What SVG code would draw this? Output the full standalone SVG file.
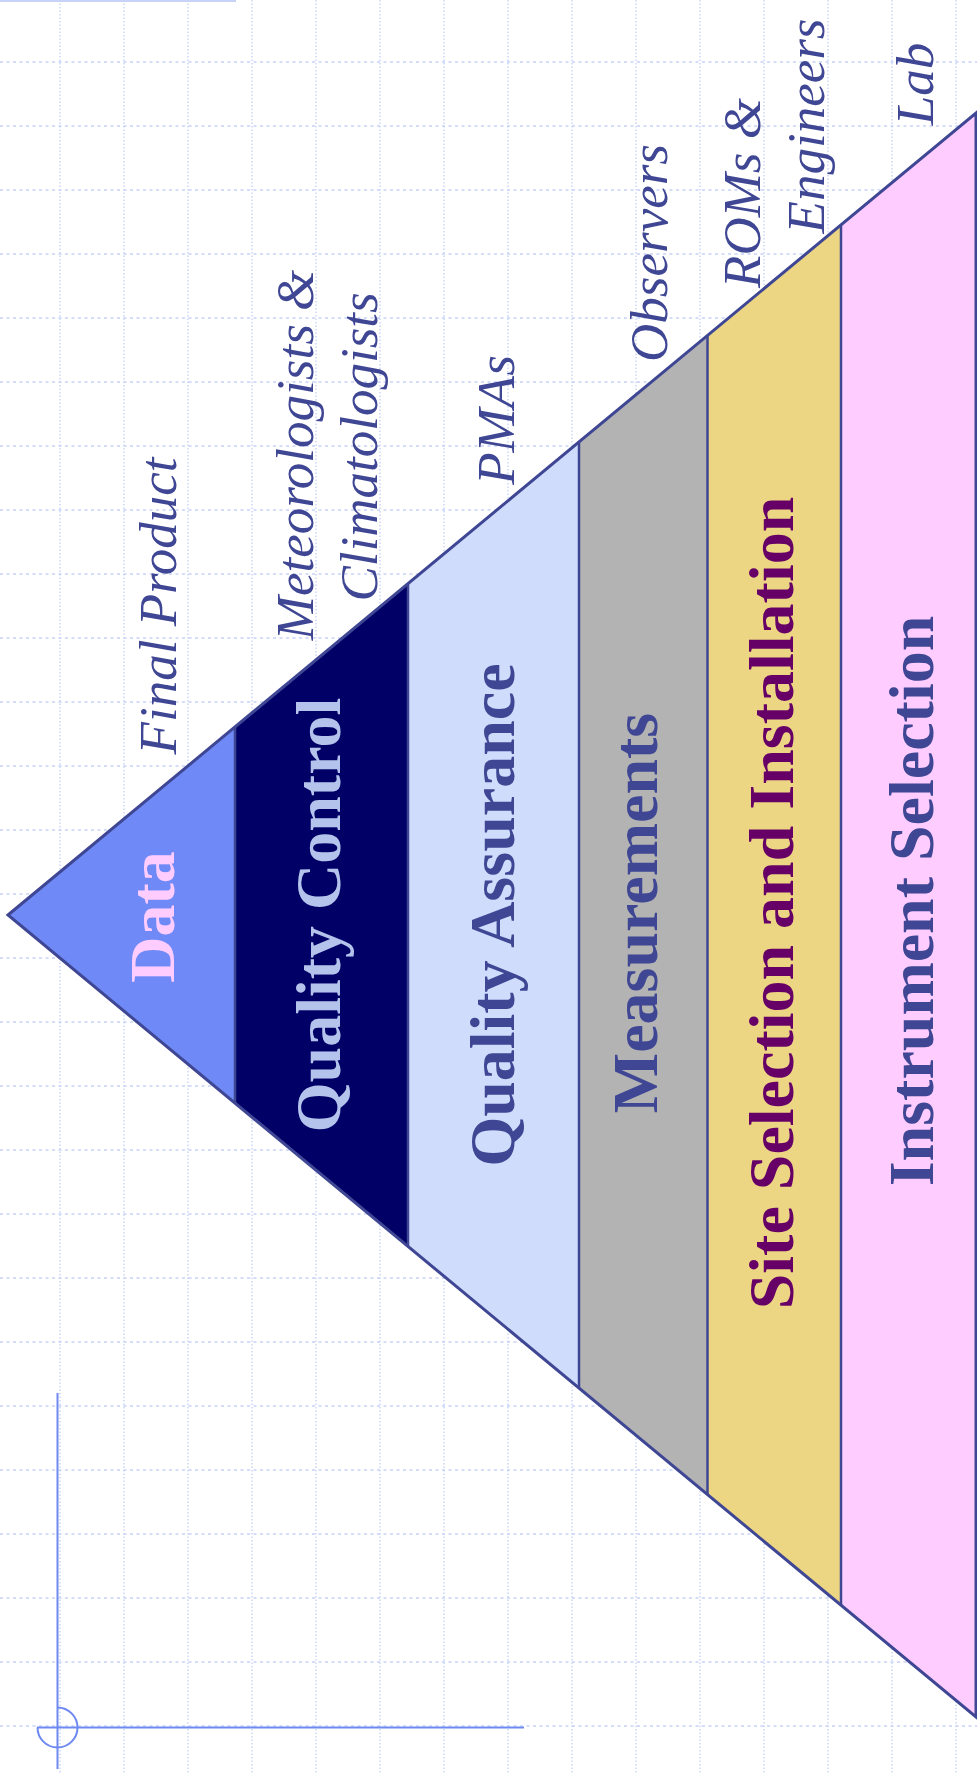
<svg xmlns="http://www.w3.org/2000/svg" width="977" height="1774" viewBox="0 0 977 1774">
  <style>
    .gh { stroke: #c6d3f6; stroke-width: 1.4; stroke-dasharray: 3 3.5; fill: none; }
    .gv { stroke: #c6d3f6; stroke-width: 1.4; stroke-dasharray: 1.5 2; fill: none; }
    .band { stroke: none; }
    .divider { stroke: #3f4794; stroke-width: 2.5; fill: none; }
    .outline { stroke: #3f4794; stroke-width: 3; fill: none; stroke-linejoin: miter; }
    .title { font-family: "Liberation Serif", "Times New Roman", serif; font-weight: bold; font-size: 64px; text-anchor: middle; }
    .role { font-family: "Liberation Serif", "Times New Roman", serif; font-style: italic; font-size: 53px; text-anchor: middle; fill: #3f4794; }
    .mark { stroke: #6f89f2; stroke-width: 2; fill: none; }
  </style>

  <rect width="977" height="1774" fill="#ffffff"/>

  <!-- dotted background grid -->
  <g id="grid">
    <path class="gv" d="M60 0V1774 M124 0V1774 M188 0V1774 M252 0V1774 M316 0V1774 M380 0V1774 M444 0V1774 M508 0V1774 M572 0V1774 M636 0V1774 M700 0V1774 M764 0V1774 M828 0V1774 M892 0V1774 M956 0V1774"/>
    <path class="gh" d="M0 62H977 M0 126H977 M0 190H977 M0 254H977 M0 318H977 M0 382H977 M0 446H977 M0 510H977 M0 574H977 M0 638H977 M0 702H977 M0 766H977 M0 830H977 M0 894H977 M0 958H977 M0 1022H977 M0 1086H977 M0 1150H977 M0 1214H977 M0 1278H977 M0 1342H977 M0 1406H977 M0 1470H977 M0 1534H977 M0 1598H977 M0 1662H977 M0 1726H977"/>
  </g>

  <!-- corner marks -->
  <g id="marks">
    <line x1="0" y1="1" x2="236" y2="1" stroke="#c6d2f7" stroke-width="2"/>
    <path class="mark" d="M57.5 1393V1769 M37 1727.5H524"/>
    <path class="mark" d="M57.5 1707.5A20 20 0 1 1 37.5 1727.5"/>
  </g>

  <!-- pyramid tiers, apex on the left -->
  <g id="tier-data">
    <polygon class="band" fill="#6f8af6" points="8,915 235,726.9 235,1103.1"/>
    <text class="title" fill="#ffccff" transform="translate(174,917) rotate(-90)">Data</text>
  </g>
  <g id="tier-quality-control">
    <polygon class="band" fill="#000066" points="235,726.9 408,583.6 408,1246.4 235,1103.1"/>
    <text class="title" fill="#b3c3ec" transform="translate(340,915) rotate(-90)">Quality Control</text>
  </g>
  <g id="tier-quality-assurance">
    <polygon class="band" fill="#cfdcfc" points="408,583.6 579,441.9 579,1388.1 408,1246.4"/>
    <text class="title" fill="#3f4794" transform="translate(514,915) rotate(-90)">Quality Assurance</text>
  </g>
  <g id="tier-measurements">
    <polygon class="band" fill="#b3b3b3" points="579,441.9 707.5,335.5 707.5,1494.5 579,1388.1"/>
    <text class="title" fill="#3f4794" transform="translate(657,913) rotate(-90)">Measurements</text>
  </g>
  <g id="tier-site">
    <polygon class="band" fill="#ecd683" points="707.5,335.5 841,224.9 841,1605.1 707.5,1494.5"/>
    <text class="title" fill="#660066" transform="translate(793,903) rotate(-90)">Site Selection and Installation</text>
  </g>
  <g id="tier-instrument">
    <polygon class="band" fill="#ffccff" points="841,224.9 976,113 976,1717 841,1605.1"/>
    <text class="title" fill="#3f4794" transform="translate(933,901) rotate(-90)">Instrument Selection</text>
  </g>

  <!-- tier outlines -->
  <g id="outlines">
    <path class="divider" d="M235 726.9V1103.1 M408 583.6V1246.4 M579 441.9V1388.1 M707.5 335.5V1494.5 M841 224.9V1605.1"/>
    <polygon class="outline" points="8,915 976,113 976,1717"/>
  </g>

  <!-- who is responsible for each tier -->
  <g id="roles">
    <text class="role" transform="translate(176,606) rotate(-90)">Final Product</text>
    <text class="role" transform="translate(313,455) rotate(-90)">Meteorologists &amp;</text>
    <text class="role" transform="translate(377,447) rotate(-90)">Climatologists</text>
    <text class="role" transform="translate(514,420) rotate(-90)">PMAs</text>
    <text class="role" transform="translate(667,253) rotate(-90)">Observers</text>
    <text class="role" transform="translate(760,193) rotate(-90)">ROMs &amp;</text>
    <text class="role" transform="translate(824,126) rotate(-90)">Engineers</text>
    <text class="role" transform="translate(933,84) rotate(-90)">Lab</text>
  </g>
</svg>
